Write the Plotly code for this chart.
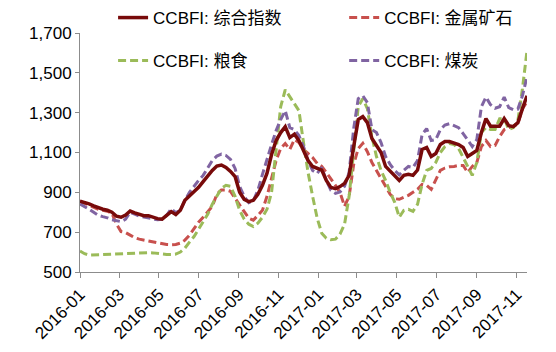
import pandas as pd
import plotly.graph_objects as go

# weekly observation dates (Fridays)
dates = pd.date_range("2016-01-01", periods=99, freq="7D")

composite = [855, 850, 842, 832, 822, 815, 810, 800, 780, 775, 786, 806, 797, 790, 783, 783, 775, 768, 765, 785,
             803, 788, 810, 860, 882, 900, 925, 954, 985, 1010, 1032, 1037, 1025, 1005, 979, 900, 865, 853, 860, 890,
             935, 996, 1090, 1160, 1200, 1230, 1175, 1192, 1160, 1113, 1060, 1030, 1020, 1012, 960, 925, 918, 929, 945, 985,
             1129, 1265, 1280, 1250, 1170, 1135, 1100, 1030, 1005, 985, 960, 985, 990, 985, 1012, 1115, 1125, 1080, 1095, 1140,
             1155, 1155, 1146, 1140, 1125, 1080, 1095, 1110, 1200, 1270, 1232, 1230, 1232, 1270, 1235, 1230, 1250, 1320, 1385]

metal = [855, 845, 835, 825, 815, 810, 805, 795, 740, 703, 698, 685, 672, 665, 660, 657, 652, 648, 640, 638,
         637, 638, 645, 660, 685, 720, 750, 775, 800, 830, 890, 912, 912, 905, 870, 835, 805, 770, 760, 785,
         810, 880, 970, 1060, 1120, 1145, 1115, 1165, 1150, 1115, 1095, 1075, 1045, 1030, 1000, 970, 935, 900, 830, 880,
         1040, 1120, 1146, 1104, 1050, 1010, 970, 925, 890, 868, 865, 875, 885, 900, 915, 940, 935, 915, 960, 1010,
         1022, 1028, 1030, 1035, 1035, 1000, 1030, 1050, 1130, 1160, 1130, 1135, 1180, 1215, 1225, 1230, 1245, 1320, 1355]

grain = [605, 592, 585, 586, 588, 590, 591, 592, 593, 594, 594, 594, 595, 595, 596, 597, 596, 593, 590, 588,
         588, 590, 600, 620, 650, 678, 715, 750, 790, 840, 880, 920, 935, 930, 880, 810, 765, 740, 728, 745,
         775, 815, 900, 1100, 1330, 1415, 1380, 1350, 1310, 1150, 1000, 880, 770, 695, 670, 662, 665, 690, 740, 880,
         1100, 1330, 1370, 1320, 1180, 1080, 1010, 960, 900, 850, 775, 810, 815, 805, 840, 940, 1010, 1020, 1050, 1100,
         1130, 1145, 1140, 1120, 1075, 1030, 985, 1050, 1200, 1225, 1215, 1215, 1270, 1270, 1215, 1225, 1260, 1420, 1610]

coal = [842, 830, 815, 800, 785, 778, 772, 762, 757, 753, 765, 800, 790, 780, 776, 772, 768, 762, 765, 785,
        818, 798, 810, 860, 900, 932, 960, 985, 1025, 1060, 1082, 1092, 1085, 1065, 1020, 930, 880, 848, 858, 910,
        990, 1070, 1140, 1210, 1265, 1310, 1225, 1215, 1185, 1130, 1060, 1010, 995, 1025, 960, 910, 895, 902, 930, 1000,
        1220, 1370, 1385, 1350, 1215, 1200, 1150, 1080, 1040, 1010, 988, 1010, 1030, 1025, 1060, 1190, 1220, 1160, 1165, 1215,
        1238, 1245, 1235, 1225, 1195, 1160, 1130, 1165, 1330, 1378, 1340, 1322, 1330, 1378, 1325, 1315, 1318, 1385, 1480]

names = ["CCBFI: 综合指数", "CCBFI: 金属矿石", "CCBFI: 粮食", "CCBFI: 煤炭"]
colors = ["#780A0A", "#C8504D", "#9BBB59", "#8064A2"]
y_ticks = [500, 700, 900, 1100, 1300, 1500, 1700]

tick_vals = pd.date_range("2016-01-01", "2017-11-01", freq="2MS")
tick_text = [d.strftime("%Y-%m") for d in tick_vals]

series = [composite, metal, grain, coal]
legend_ids = ["legend", "legend2", "legend3", "legend4"]

fig = go.Figure()
# dashed series first, composite drawn last (on top)
for i in [1, 2, 3, 0]:
    fig.add_trace(go.Scatter(
        x=dates, y=series[i], mode="lines", name=names[i], legend=legend_ids[i],
        showlegend=True,
        line=dict(color=colors[i], width=3.5 if i == 0 else 3,
                  dash="solid" if i == 0 else "8px,4px"),
    ))

font_main = "Liberation Sans, Arial, Noto Sans CJK SC, sans-serif"
leg_common = dict(xanchor="left", yanchor="top", bgcolor="rgba(0,0,0,0)",
                  font=dict(size=17, color="#000000"))
fig.update_layout(
    width=556, height=352,
    showlegend=True,
    margin=dict(l=80, r=29, t=33, b=80, autoexpand=False),
    paper_bgcolor="white", plot_bgcolor="white",
    font=dict(family=font_main, size=17, color="#000000"),
    legend=dict(x=0.074, y=1.138, **leg_common),
    legend2=dict(x=0.591, y=1.138, **leg_common),
    legend3=dict(x=0.074, y=0.958, **leg_common),
    legend4=dict(x=0.591, y=0.958, **leg_common),
    xaxis=dict(
        type="date", range=["2016-01-01", "2017-11-17"],
        tickvals=tick_vals, ticktext=tick_text, tickangle=-45,
        showline=True, linecolor="#8C8C8C", linewidth=1,
        ticks="outside", ticklen=5, tickcolor="#8C8C8C",
        showgrid=False, zeroline=False, automargin=False,
        tickfont=dict(size=17),
    ),
    yaxis=dict(
        range=[500, 1700], tickvals=y_ticks,
        tickformat=",d",
        showline=True, linecolor="#8C8C8C", linewidth=1,
        ticks="outside", ticklen=4, tickcolor="#8C8C8C",
        showgrid=False, zeroline=False, automargin=False,
        tickfont=dict(size=17),
    ),
)

# remove the browser's default 8px page margin so the figure sits at (0,0)
fig.write_html("out.html",
               config={"displayModeBar": False},
               post_script="document.body.style.margin='0';document.body.style.overflow='hidden';")
